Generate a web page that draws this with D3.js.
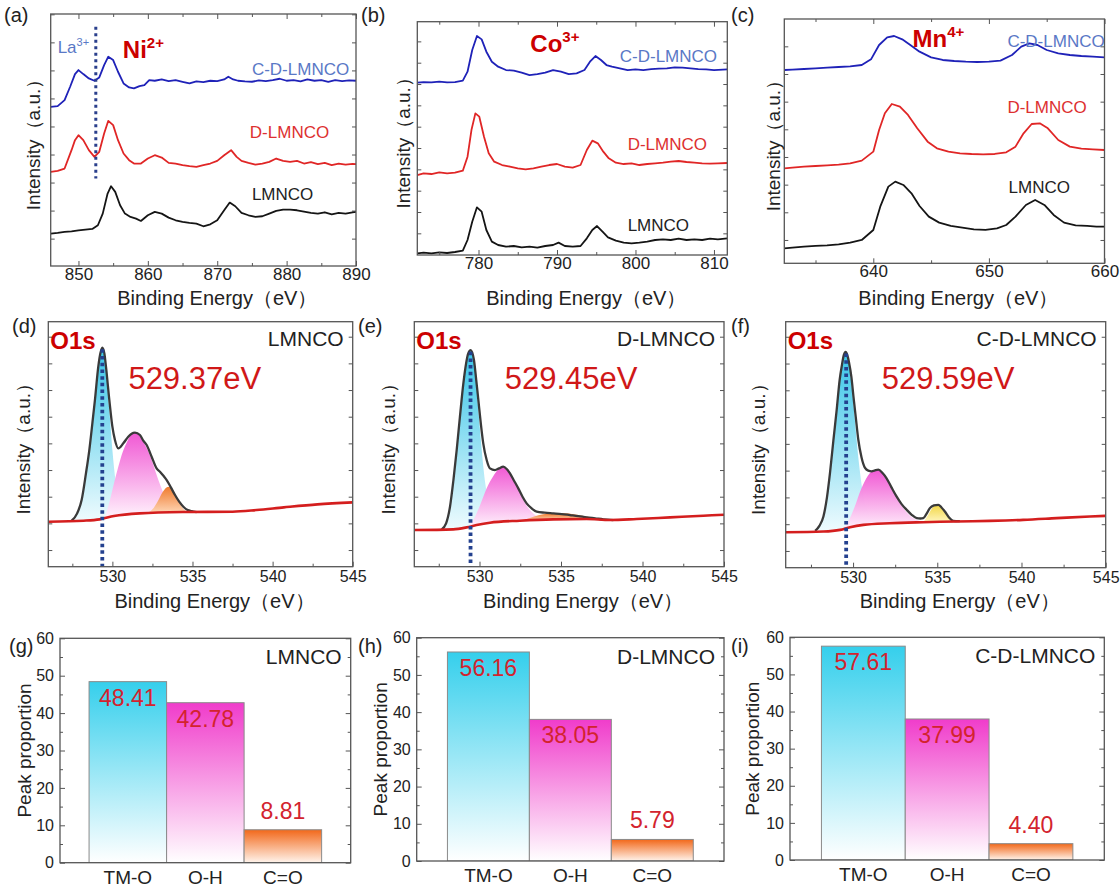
<!DOCTYPE html>
<html>
<head>
<meta charset="utf-8">
<script src="https://cdn.jsdelivr.net/npm/d3@7"></script>
<style>
  body { margin: 0; background: #fff; }
  svg { display: block; }
</style>
</head>
<body>
<svg width="1120" height="890"></svg>
<script>
// ---------- data (intensity in arbitrary units) ----------

// (a) Ni 2p
const ni2pCDLMNCO = [[846,477],[847,479],[848,497],[848.8,537],[849.5,575],[850,587],[850.7,575],[851.5,562],[852.3,555],[853,565],[853.7,602],[854.3,627],[855,617],[855.7,582],[856.5,547],[857.3,535],[858,532],[858.8,539],[859.5,542],[860.2,557],[861,555],[862,559],[863,554],[864,557],[865,552],[866,547],[867,553],[868,551],[869,555],[870,554],[871,559],[871.6,567],[872.3,559],[873,555],[874,553],[875,552],[876,556],[877,554],[878,557],[879,561],[880,555],[881,557],[882,553],[883,559],[884,555],[885,557],[886,552],[887,557],[888,554],[889,556],[890,555]];
const ni2pDLMNCO = [[846,282],[847,285],[848,292],[849,347],[849.5,377],[850,392],[850.7,377],[851.5,347],[852.3,327],[853,342],[853.7,397],[854.3,435],[855,422],[855.7,377],[856.5,337],[857.3,317],[858,307],[859,307],[860,322],[861,332],[862,325],[863,309],[864,307],[865,302],[866,299],[867,297],[868,302],[869,307],[870,315],[871,332],[872,347],[872.8,327],[873.5,315],[874.5,309],[875.5,304],[876.5,307],[877.5,312],[878.5,322],[879.5,315],[880.5,312],[881.5,315],[882.5,307],[883.5,311],[884.5,305],[885.5,309],[886.5,302],[887.5,307],[888.5,304],[889.5,306],[890,305]];
const ni2pLMNCO = [[846,97],[847,99],[848,102],[849,104],[850,107],[851,109],[852,111],[852.8,122],[853.5,157],[854.2,217],[854.7,239],[855.3,222],[856,182],[856.7,157],[857.5,147],[858.3,142],[859,135],[860,152],[861,162],[862,157],[863,145],[864,137],[865,132],[866,129],[867,127],[868,119],[869,125],[870,137],[871,167],[871.8,190],[872.6,179],[873.5,159],[874.5,152],[875.5,147],[876.5,149],[877.5,157],[878.5,165],[879.5,169],[880.5,169],[881.5,167],[882.5,163],[883.5,159],[884.5,157],[885.5,161],[886.5,155],[887.5,159],[888.5,157],[889.5,161],[890,162]];
const la3dMarker = 852.5;

// (b) Co 2p
const co2pCDLMNCO = [[772.2,517],[773,519],[774,518],[775,520],[776,518],[777,519],[778,523],[778.6,550],[779.2,615],[779.8,657],[780.4,647],[781,610],[781.7,580],[782.5,565],[783.5,555],[784.5,553],[785.5,547],[786.5,540],[787.5,543],[788.5,547],[789.5,555],[790.5,550],[791.5,543],[792.5,545],[793.5,555],[794.2,580],[794.9,597],[795.6,585],[796.3,570],[797,565],[798,560],[799,555],[800,557],[801,555],[802,558],[803,559],[804,560],[805,563],[806,562],[807,560],[808,558],[809,557],[810,555],[811.7,557]];
const co2pDLMNCO = [[772.2,240],[773,245],[774,243],[775,248],[776,245],[777,247],[778,253],[778.6,295],[779.1,375],[779.6,425],[780.1,415],[780.7,355],[781.3,305],[782,280],[783,270],[784,265],[785,260],[786,257],[787,260],[788,265],[789,270],[790,273],[791,265],[792,262],[793,270],[793.8,315],[794.5,343],[795.2,335],[795.9,310],[796.6,290],[797.5,277],[798.5,273],[799.5,275],[800.5,270],[801.5,273],[802.5,275],[803.5,277],[804.5,280],[805.5,282],[806.5,279],[807.5,277],[808.5,275],[809.5,274],[810.5,275],[811.7,276]];
const co2pLMNCO = [[772.2,5],[773,7],[774,5],[775,8],[776,6],[777,9],[778,13],[778.6,45],[779.2,100],[779.8,143],[780.4,130],[781,75],[781.7,40],[782.5,30],[783.5,25],[784.5,27],[785.5,23],[786.5,25],[787.5,22],[788.5,27],[789.5,30],[790.2,37],[791,27],[792,25],[793,27],[793.8,50],[794.5,75],[795.1,87],[795.8,70],[796.5,53],[797.5,43],[798.5,37],[799.5,35],[800.5,37],[801.5,40],[802.5,45],[803.5,47],[804.5,45],[805.5,49],[806.5,45],[807.5,47],[808.5,45],[809.5,49],[810.5,47],[811.7,50]];

// (c) Mn 2p
const mn2pCDLMNCO = [[632.3,580],[633,581],[634,583],[635,585],[636,587],[637,589],[638,591],[639,595],[639.8,612],[640.5,655],[641.2,678],[641.8,682],[642.5,672],[643.2,655],[644,635],[645,618],[646,610],[647,607],[648,605],[649,604],[650,605],[651,608],[652,625],[652.8,650],[653.5,660],[654.2,655],[655,640],[656,630],[657,625],[658,622],[659,620],[660,618]];
const mn2pDLMNCO = [[632.3,285],[633,287],[634,290],[635,292],[636,294],[637,296],[638,300],[639,308],[640,335],[640.5,400],[641,450],[641.6,478],[642.3,470],[643,445],[643.8,405],[644.7,365],[645.5,345],[646.5,335],[647.5,330],[648.5,328],[649.5,327],[650.5,328],[651.5,333],[652.3,350],[653,390],[653.7,418],[654.4,420],[655.1,405],[656,370],[657,350],[658,344],[659,342],[660,340]];
const mn2pLMNCO = [[632.3,45],[633,47],[634,50],[635,52],[636,54],[637,57],[638,62],[639,70],[640,100],[640.6,170],[641.3,230],[641.9,245],[642.6,235],[643.3,210],[644,172],[644.8,140],[645.7,122],[646.7,112],[647.7,107],[648.7,102],[649.7,100],[650.7,105],[651.5,115],[652.3,140],[653.2,175],[654,190],[654.8,175],[655.6,145],[656.5,122],[657.5,114],[658.5,112],[659.3,110],[660,110]];

// (d) O 1s LMNCO : backgrounds / envelopes are [eV, I]; fitted peaks are [eV, top, base]
const o1sPeakLMNCO = 529.37;
const o1sBackgroundLMNCO = [[526,135],[528.2,138],[529.2,142],[530.1,152],[531.7,160],[534.4,164],[537.5,165],[539,170],[540.7,178],[542.8,187],[545,193]];
const o1sEnvelopeLMNCO = [[527.46,138],[527.8,160],[528.08,200],[528.35,280],[528.56,350],[528.75,430],[528.91,500],[529.12,600],[529.25,640],[529.37,657],[529.5,640],[529.6,600],[529.81,500],[530.0,420],[530.16,380],[530.37,355],[530.68,370],[530.99,390],[531.2,399],[531.41,402],[531.72,395],[531.93,378],[532.14,365],[532.45,330],[532.76,295],[532.97,285],[533.2,272],[533.39,260],[533.65,238],[533.91,215],[534.17,195],[534.43,180],[534.7,170],[534.95,167],[535.26,164]];
const tmoFitLMNCO = [[527.46,138,138],[528.08,200,139],[528.56,350,140],[528.91,500,141],[529.12,600,141],[529.37,655,142],[529.6,590,145],[529.81,470,148],[530.0,350,150],[530.2,255,152],[530.4,195,154],[530.65,168,155],[530.9,158,156],[531.2,157,157]];
const ohFitLMNCO = [[529.54,148,148],[529.85,200,150],[530.1,250,151],[530.37,300,153],[530.65,345,155],[530.89,372,156],[531.15,395,157],[531.41,402,158],[531.67,395,159],[531.93,375,160],[532.2,350,160],[532.45,320,161],[532.87,260,161],[533.15,225,162],[533.39,200,162],[533.65,182,163],[533.91,170,163],[534.43,163,163]];
const coFitLMNCO = [[532.14,160,160],[532.5,172,161],[532.85,198,161],[533.15,225,162],[533.49,240,162],[533.8,228,163],[534.1,200,163],[534.4,175,164],[534.74,164,164]];

// (e) O 1s D-LMNCO
const o1sPeakDLMNCO = 529.45;
const o1sBackgroundDLMNCO = [[526,110],[528.39,112],[529.21,118],[529.82,125],[530.64,132],[532.48,138],[534.53,142],[536.57,143],[538.0,140],[539.64,143],[541.69,148],[543.73,153],[545,156]];
const o1sEnvelopeDLMNCO = [[527.68,112],[527.95,130],[528.19,180],[528.4,260],[528.6,350],[528.8,450],[529.01,550],[529.31,640],[529.46,650],[529.66,620],[529.8,560],[529.93,500],[530.08,430],[530.23,370],[530.44,320],[530.64,295],[530.95,290],[531.2,295],[531.46,300],[531.67,293],[531.87,280],[532.12,258],[532.38,235],[532.64,210],[532.89,190],[533.2,175],[533.51,165],[534.0,162],[534.53,160],[535.04,158],[535.55,155],[536.06,152],[536.57,148],[537.1,145],[537.6,142],[538.21,140]];
const tmoFitDLMNCO = [[527.68,112,112],[528.19,180,113],[528.6,350,114],[529.01,550,116],[529.31,640,118],[529.46,648,119],[529.66,615,121],[529.8,550,123],[529.93,470,124],[530.1,370,125],[530.3,270,127],[530.55,200,129],[530.85,160,131],[531.16,142,133],[531.47,136,135]];
const ohFitDLMNCO = [[529.21,118,118],[529.62,140,121],[530.04,185,125],[530.44,235,128],[530.85,272,131],[531.16,292,133],[531.46,300,135],[531.77,290,136],[532.18,255,137],[532.59,210,138],[533.0,175,139],[533.41,155,140],[533.93,142,141]];
const coFitDLMNCO = [[532.7,139,139],[533.31,150,140],[533.92,157,141],[534.54,160,142],[535.16,160,142],[535.77,157,143],[536.39,152,143],[537.0,147,142],[537.62,141,141]];

// (f) O 1s C-D-LMNCO
const o1sPeakCDLMNCO = 529.59;
const o1sBackgroundCDLMNCO = [[526,106],[528.24,108],[529.23,113],[529.82,121],[530.61,128],[532.18,133],[534.16,136],[536.14,138],[538.12,140],[540.1,143],[542.08,148],[544.06,153],[545,155]];
const o1sEnvelopeCDLMNCO = [[527.75,110],[528.0,125],[528.24,153],[528.45,210],[528.63,283],[528.83,380],[529.03,473],[529.2,560],[529.33,603],[529.45,635],[529.56,645],[529.66,635],[529.76,613],[529.9,570],[530.02,513],[530.16,450],[530.31,383],[530.5,330],[530.71,298],[530.9,290],[531.11,288],[531.3,291],[531.5,293],[531.75,283],[531.98,268],[532.28,240],[532.58,213],[532.88,190],[533.18,173],[533.48,158],[533.78,148],[534.0,147],[534.17,148],[534.35,160],[534.56,178],[534.8,186],[535.06,188],[535.25,180],[535.45,168],[535.7,150],[535.95,140],[536.34,139]];
const tmoFitCDLMNCO = [[527.75,110,110],[528.24,153,111],[528.63,283,112],[529.03,473,113],[529.33,603,115],[529.56,643,117],[529.76,608,120],[530.02,490,123],[530.31,330,126],[530.63,210,129],[530.93,160,131],[531.28,137,132],[531.58,133,133]];
const ohFitCDLMNCO = [[529.23,113,113],[529.68,135,119],[530.08,180,124],[530.48,235,128],[530.88,275,130],[531.18,290,131],[531.5,293,132],[531.83,280,133],[532.18,250,133],[532.58,210,134],[532.98,178,135],[533.38,155,135],[533.78,143,136],[534.18,137,136]];
const coFitCDLMNCO = [[534.18,136,136],[534.48,160,136],[534.78,183,137],[535.03,188,137],[535.28,178,137],[535.58,155,138],[535.88,140,138]];

// (g)-(i) peak proportions
const bondTypes = ["TM-O", "O-H", "C=O"];
const shareLMNCO = [48.41, 42.78, 8.81];
const shareDLMNCO = [56.16, 38.05, 5.79];
const shareCDLMNCO = [57.61, 37.99, 4.40];

// ---------- drawing ----------
const FONT = "Arial, 'Liberation Sans', sans-serif";
const AXIS = "#555";
const BLUE = "#1f22b8", RED = "#e02626", BLACK = "#151515";
const svg = d3.select("svg");
const defs = svg.append("defs");
let clipCount = 0;

function gradient(id, top, bottom, topOpacity) {
  const lg = defs.append("linearGradient").attr("id", id)
    .attr("x1", 0).attr("y1", 0).attr("x2", 0).attr("y2", 1);
  lg.append("stop").attr("offset", 0).attr("stop-color", top).attr("stop-opacity", topOpacity);
  lg.append("stop").attr("offset", 1).attr("stop-color", bottom).attr("stop-opacity", 1);
}
gradient("barTMO", "#35cfec", "#ffffff", 1);
gradient("barOH", "#f03ccb", "#ffffff", 1);
gradient("barCO", "#f2681a", "#fff4ec", 1);
gradient("fitTMO", "#2fc2e6", "#eefbfe", 0.95);
gradient("fitOH", "#f050d2", "#fff2fc", 0.95);
gradient("fitCO", "#ee7424", "#ffd8b8", 0.95);
gradient("fitCOy", "#f1d43c", "#fff6c0", 0.95);

function makePanel(box, xDomain, yDomain) {
  const g = svg.append("g");
  const x = d3.scaleLinear().domain(xDomain).range([box.l, box.r]);
  const y = d3.scaleLinear().domain(yDomain).range([box.b, box.t]);
  const id = "clip" + (clipCount++);
  defs.append("clipPath").attr("id", id).append("rect")
    .attr("x", box.l).attr("y", box.t).attr("width", box.r - box.l).attr("height", box.b - box.t);
  const plot = g.append("g").attr("clip-path", `url(#${id})`);
  return { g, plot, x, y, box };
}

function styleAxis(sel, size) {
  sel.select(".domain").remove();
  sel.attr("font-family", null).attr("font-size", null);
  sel.selectAll("line").attr("stroke", AXIS).attr("stroke-width", 1);
  sel.selectAll("text").attr("font-family", FONT).attr("font-size", size).attr("fill", "#222");
}

function addAxis(p, axis, tx, ty, size) {
  const s = p.g.append("g").attr("transform", `translate(${tx},${ty})`).call(axis);
  styleAxis(s, size);
  return s;
}

function frame(p) {
  const b = p.box;
  p.g.append("rect").attr("x", b.l).attr("y", b.t).attr("width", b.r - b.l).attr("height", b.b - b.t)
    .attr("fill", "none").attr("stroke", AXIS).attr("stroke-width", 1.3);
}

function spectrumAxes(p, xMajor, xMinor, yTicks, size, pad, topTicks) {
  const { x, y, box } = p;
  addAxis(p, d3.axisBottom(x).tickValues(xMajor).tickSizeInner(-5).tickSizeOuter(0).tickPadding(pad).tickFormat(d3.format("d")), 0, box.b, size);
  addAxis(p, d3.axisBottom(x).tickValues(xMinor).tickSizeInner(-3).tickSizeOuter(0).tickFormat(""), 0, box.b, size);
  if (topTicks) {
    addAxis(p, d3.axisTop(x).tickValues(xMajor).tickSizeInner(-5).tickSizeOuter(0).tickFormat(""), 0, box.t, size);
    addAxis(p, d3.axisTop(x).tickValues(xMinor).tickSizeInner(-3).tickSizeOuter(0).tickFormat(""), 0, box.t, size);
  }
  addAxis(p, d3.axisLeft(y).tickValues(yTicks).tickSizeInner(-4).tickSizeOuter(0).tickFormat(""), box.l, 0, size);
  addAxis(p, d3.axisRight(y).tickValues(yTicks).tickSizeInner(-4).tickSizeOuter(0).tickFormat(""), box.r, 0, size);
}

function addText(parent, px, py, str, o) {
  const t = parent.append("text").attr("x", px).attr("y", py)
    .attr("font-family", FONT).attr("font-size", o.size).attr("fill", o.color || "#222")
    .attr("font-weight", o.bold ? "bold" : "normal").attr("text-anchor", o.anchor || "start");
  t.append("tspan").text(str);
  if (o.sup) t.append("tspan").attr("font-size", Math.round(o.size * 0.62)).attr("dy", -o.size * 0.4).text(o.sup);
  return t;
}

function xTitle(p, baseline) {
  const b = p.box;
  addText(svg, (b.l + b.r) / 2 + 14, baseline, "Binding Energy（eV）", { size: 20, anchor: "middle" });
}

function yTitle(p, cx, label, size) {
  const b = p.box;
  svg.append("text").attr("transform", `translate(${cx + size * 0.35},${(b.t + b.b) / 2}) rotate(-90)`)
    .attr("text-anchor", "middle").attr("font-family", FONT).attr("font-size", size).attr("fill", "#222")
    .text(label);
}

const lineOf = (p) => d3.line().x(d => p.x(d[0])).y(d => p.y(d[1]));
const smoothOf = (p) => d3.line().x(d => p.x(d[0])).y(d => p.y(d[1])).curve(d3.curveMonotoneX);

function trace(p, data, color) {
  p.plot.append("path").attr("d", lineOf(p)(data)).attr("fill", "none")
    .attr("stroke", color).attr("stroke-width", 1.8).attr("stroke-linejoin", "round");
}

// ----- top row: Ni / Co / Mn 2p -----
const pA = makePanel({ l: 50.7, r: 356, t: 14, b: 266 }, [846, 890], [0, 755]);
const pB = makePanel({ l: 417.3, r: 727.3, t: 21.7, b: 255 }, [772.2, 811.7], [0, 700]);
const pC = makePanel({ l: 784.3, r: 1104.5, t: 19, b: 263.3 }, [632.3, 660], [0, 733]);

spectrumAxes(pA, [850, 860, 870, 880, 890], [855, 865, 875, 885], d3.range(82, 755, 84), 17, 2, true);
spectrumAxes(pB, [780, 790, 800, 810], [775, 785, 795, 805], d3.range(65, 700, 64), 17, 2, true);
spectrumAxes(pC, [640, 650, 660], [635, 645, 655], d3.range(70, 733, 83), 17, 2, true);

[[pA, ni2pLMNCO, ni2pDLMNCO, ni2pCDLMNCO], [pB, co2pLMNCO, co2pDLMNCO, co2pCDLMNCO], [pC, mn2pLMNCO, mn2pDLMNCO, mn2pCDLMNCO]]
  .forEach(([p, s1, s2, s3]) => {
    trace(p, s1, BLACK);
    trace(p, s2, RED);
    trace(p, s3, BLUE);
  });

// La 3d marker
pA.plot.append("line").attr("x1", pA.x(la3dMarker)).attr("x2", pA.x(la3dMarker))
  .attr("y1", pA.y(717)).attr("y2", pA.y(262))
  .attr("stroke", "#2a3f8c").attr("stroke-width", 3).attr("stroke-dasharray", "3,3.5");

const lblBlue = "#5a78c6", lblRed = "#dd3030";
addText(pA.g, pA.x(847.0), pA.y(639), "La", { size: 17, color: lblBlue, sup: "3+" });
addText(pA.g, pA.x(856.4), pA.y(624), "Ni", { size: 24, color: "#cc0000", bold: true, sup: "2+" });
addText(pA.g, pA.x(875), pA.y(573), "C-D-LMNCO", { size: 17, color: lblBlue });
addText(pA.g, pA.x(874.7), pA.y(384), "D-LMNCO", { size: 17, color: lblRed });
addText(pA.g, pA.x(875), pA.y(198), "LMNCO", { size: 17, color: "#222" });

addText(pB.g, pB.x(786.6), pB.y(609), "Co", { size: 24, color: "#cc0000", bold: true, sup: "3+" });
addText(pB.g, pB.x(798.0), pB.y(579), "C-D-LMNCO", { size: 17, color: lblBlue });
addText(pB.g, pB.x(799.0), pB.y(315), "D-LMNCO", { size: 17, color: lblRed });
addText(pB.g, pB.x(799.0), pB.y(72), "LMNCO", { size: 17, color: "#222" });

addText(pC.g, pC.x(643.4), pC.y(649), "Mn", { size: 24, color: "#cc0000", bold: true, sup: "4+" });
addText(pC.g, pC.x(651.6), pC.y(649), "C-D-LMNCO", { size: 17, color: lblBlue });
addText(pC.g, pC.x(651.6), pC.y(451), "D-LMNCO", { size: 17, color: lblRed });
addText(pC.g, pC.x(651.7), pC.y(211), "LMNCO", { size: 17, color: "#222" });

[pA, pB, pC].forEach(p => { frame(p); xTitle(p, 305); });
yTitle(pA, 33, "Intensity（a.u.）", 19);
yTitle(pB, 403, "Intensity（a.u.）", 19);
yTitle(pC, 773, "Intensity（a.u.）", 19);

// ----- middle row: O 1s fits -----
const o1sSets = [
  { box: { l: 48.3, r: 352.7, t: 321.7, b: 566.7 }, name: "LMNCO", peak: o1sPeakLMNCO, bg: o1sBackgroundLMNCO, env: o1sEnvelopeLMNCO,
    fits: [[tmoFitLMNCO, "fitTMO"], [ohFitLMNCO, "fitOH"], [coFitLMNCO, "fitCO"]], labelE: 531.0, ylab: 23 },
  { box: { l: 414.3, r: 724, t: 321.7, b: 566.7 }, name: "D-LMNCO", peak: o1sPeakDLMNCO, bg: o1sBackgroundDLMNCO, env: o1sEnvelopeDLMNCO,
    fits: [[tmoFitDLMNCO, "fitTMO"], [ohFitDLMNCO, "fitOH"], [coFitDLMNCO, "fitCO"]], labelE: 531.55, ylab: 388 },
  { box: { l: 785.7, r: 1105.7, t: 321.7, b: 567.7 }, name: "C-D-LMNCO", peak: o1sPeakCDLMNCO, bg: o1sBackgroundCDLMNCO, env: o1sEnvelopeCDLMNCO,
    fits: [[tmoFitCDLMNCO, "fitTMO"], [ohFitCDLMNCO, "fitOH"], [coFitCDLMNCO, "fitCOy"]], labelE: 531.7, ylab: 758 }
];

o1sSets.forEach(s => {
  const p = makePanel(s.box, [526, 545], [0, 735]);
  spectrumAxes(p, [530, 535, 540, 545], [527.5, 532.5, 537.5, 542.5], d3.range(50, 735, 80), 16, 4, false);
  const area = d3.area().x(d => p.x(d[0])).y0(d => p.y(d[2])).y1(d => p.y(d[1])).curve(d3.curveMonotoneX);
  s.fits.forEach(([data, grad]) => {
    p.plot.append("path").attr("d", area(data)).attr("fill", `url(#${grad})`)
      .attr("stroke", "none");
  });
  p.plot.append("path").attr("d", smoothOf(p)(s.env)).attr("fill", "none")
    .attr("stroke", "#3a3a3a").attr("stroke-width", 2.3);
  p.plot.append("path").attr("d", smoothOf(p)(s.bg)).attr("fill", "none")
    .attr("stroke", "#d41e1e").attr("stroke-width", 2.6);
  const top = d3.max(s.env, d => d[1]) - 5;
  p.plot.append("line").attr("x1", p.x(s.peak)).attr("x2", p.x(s.peak))
    .attr("y1", p.y(top)).attr("y2", p.y(0))
    .attr("stroke", "#24418f").attr("stroke-width", 3.8).attr("stroke-dasharray", "3.5,3.2");
  frame(p);
  addText(p.g, s.box.l + 2, s.box.t + 27, "O1s", { size: 24, color: "#cc0000", bold: true });
  addText(p.g, s.box.r - 9, s.box.t + 24, s.name, { size: 21, anchor: "end" });
  addText(p.g, p.x(s.labelE), s.box.t + 67, d3.format(".2f")(s.peak) + "eV", { size: 31, color: "#d01818" });
  xTitle(p, 608);
  yTitle(p, s.ylab, "Intensity（a.u.）", 19);
});

// ----- bottom row: peak proportions -----
const barSets = [
  { box: { l: 60, r: 350.7, t: 638.3, b: 862.7 }, name: "LMNCO", values: shareLMNCO, ylab: 24 },
  { box: { l: 416.7, r: 724, t: 637.7, b: 861 }, name: "D-LMNCO", values: shareDLMNCO, ylab: 380 },
  { box: { l: 790, r: 1104.3, t: 637.3, b: 860 }, name: "C-D-LMNCO", values: shareCDLMNCO, ylab: 752 }
];
const barFills = ["url(#barTMO)", "url(#barOH)", "url(#barCO)"];

barSets.forEach(s => {
  const b = s.box;
  const p = makePanel(b, [0, 1], [0, 60]);
  const x = d3.scaleBand().domain(bondTypes).range([b.l, b.r]).paddingInner(0).paddingOuter(0.375);
  const y = p.y;
  const rows = bondTypes.map((k, i) => ({ k, v: s.values[i], fill: barFills[i] }));

  p.plot.selectAll("rect.bar").data(rows).join("rect").attr("class", "bar")
    .attr("x", d => x(d.k)).attr("width", x.bandwidth())
    .attr("y", d => y(d.v)).attr("height", d => y(0) - y(d.v))
    .attr("fill", d => d.fill).attr("stroke", "#8a8a8a").attr("stroke-width", 1);

  p.g.selectAll("text.val").data(rows).join("text").attr("class", "val")
    .attr("x", d => x(d.k) + x.bandwidth() / 2)
    .attr("y", d => d.v > 20 ? y(d.v) + 24 : y(d.v) - 11)
    .attr("text-anchor", "middle").attr("font-family", FONT).attr("font-size", 23).attr("fill", "#d3232e")
    .text(d => d3.format(".2f")(d.v));

  addAxis(p, d3.axisLeft(y).tickValues(d3.range(0, 61, 10)).tickSizeInner(-5).tickSizeOuter(0).tickPadding(6), b.l, 0, 16);
  addAxis(p, d3.axisLeft(y).tickValues(d3.range(5, 60, 10)).tickSizeInner(-3).tickSizeOuter(0).tickFormat(""), b.l, 0, 16);
  addAxis(p, d3.axisRight(y).tickValues(d3.range(0, 61, 10)).tickSizeInner(-5).tickSizeOuter(0).tickFormat(""), b.r, 0, 16);
  addAxis(p, d3.axisRight(y).tickValues(d3.range(5, 60, 10)).tickSizeInner(-3).tickSizeOuter(0).tickFormat(""), b.r, 0, 16);
  addAxis(p, d3.axisBottom(x).tickSize(0).tickPadding(8), 0, b.b, 19);
  frame(p);
  addText(p.g, b.r - 9, b.t + 26, s.name, { size: 21, anchor: "end" });
  yTitle(p, s.ylab, "Peak proportion", 19);
});

// ----- panel letters -----
const panelLetters = ["(a)", "(b)", "(c)", "(d)", "(e)", "(f)", "(g)", "(h)", "(i)"];
const letterX = [4, 361, 731, 12, 358, 731, 9, 358, 731];
const letterY = [22, 22, 22, 333, 333, 333, 653, 653, 653];
panelLetters.forEach((t, i) => addText(svg, letterX[i], letterY[i], t, { size: 20 }));
</script>
</body>
</html>
